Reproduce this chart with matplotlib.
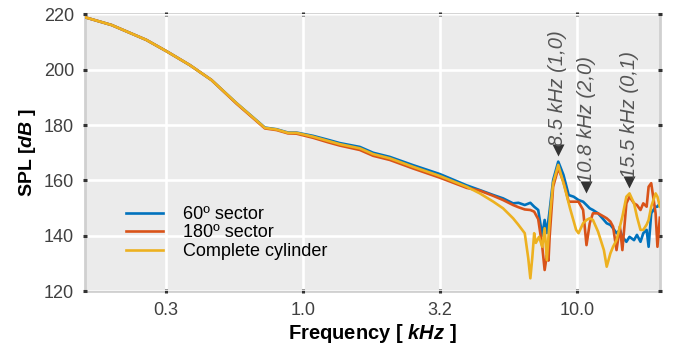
import numpy as np
import matplotlib
matplotlib.use("Agg")
import matplotlib.pyplot as plt

plt.rcParams['font.family'] = ['Liberation Sans', 'DejaVu Sans']
plt.rcParams['mathtext.fontset'] = 'custom'
plt.rcParams['mathtext.bfit'] = 'Liberation Sans:italic:bold'

# --- data (frequency in kHz, SPL in dB) ---
f_low = [0.16, 0.2, 0.268, 0.32, 0.386, 0.463, 0.572, 0.725, 0.80, 0.88, 0.945,
         1.088, 1.23, 1.36, 1.61, 1.80, 2.07, 2.52, 3.15, 3.95, 4.41]

f_blue_hi = [4.94, 5.36, 5.83, 6.1, 6.43, 6.74, 6.96, 7.2, 7.45, 7.6, 7.74, 7.93,
             8.16, 8.52, 8.9, 9.3, 9.7, 10.1, 10.5, 10.8, 11.1, 11.4, 11.9, 12.5,
             12.8, 13.2, 13.5, 13.9, 14.3, 14.6, 15.1, 15.5, 16.1, 16.5, 17.0,
             17.4, 17.9, 18.2, 18.6, 19.3, 19.6, 20.0]
spl_blue = [219.0, 216.2, 210.8, 206.5, 201.7, 196.3, 187.9, 179.1, 178.5, 177.3, 177.3,
            176.1, 174.7, 173.5, 172.1, 170.0, 168.5, 165.5, 162.3, 158.2, 156.5,
            154.7, 153.5, 151.7, 151.9, 151.1, 151.9, 150.5, 149.3, 140.0, 145.7, 141.0, 149.3,
            160.1, 166.8, 162.0, 154.7, 154.1, 152.9, 152.3, 151.1, 149.9, 149.3, 148.1, 145.7,
            144.5, 143.9, 142.7, 140.9, 142.1, 139.6, 137.8, 139.6, 138.4, 140.3, 137.8,
            140.9, 142.1, 136.0, 148.1, 150.5, 150.5, 151.7]

f_red_hi = [4.94, 5.36, 5.83, 6.1, 6.43, 6.74, 6.96, 7.2, 7.45, 7.6, 7.74, 7.85, 7.93,
            8.16, 8.52, 8.9, 9.3, 9.7, 10.1, 10.5, 10.8, 11.1, 11.4, 11.9, 12.5,
            12.8, 13.2, 13.5, 13.9, 14.3, 14.6, 15.1, 15.5, 16.1, 16.5, 17.0,
            17.4, 17.9, 18.2, 18.6, 19.3, 19.6, 20.0]
spl_red = [219.0, 216.2, 210.8, 206.5, 201.7, 196.3, 187.7, 178.8, 178.2, 177.0, 176.9,
           175.4, 173.8, 172.6, 171.0, 168.9, 167.4, 164.3, 161.0, 157.3, 156.3,
           154.4, 152.9, 151.1, 150.3, 149.5, 149.3, 148.7, 146.0, 136.0, 127.6, 133.0, 131.0, 140.0,
           157.7, 164.4, 159.5, 152.3, 152.3, 152.3, 149.3, 136.6, 144.5, 148.1, 148.1, 146.9,
           146.3, 145.1, 143.3, 134.8, 143.3, 134.8, 151.7, 154.1, 151.7, 151.1, 149.3,
           151.7, 150.5, 157.7, 159.0, 148.1, 136.0, 146.5]

f_yel_hi = [4.94, 5.36, 5.83, 6.1, 6.43, 6.62, 6.74, 6.85, 6.96, 7.06, 7.25, 7.45, 7.6,
            7.74, 7.96, 8.16, 8.52, 8.98, 9.4, 9.9, 10.1, 10.5, 10.8, 11.1, 11.4, 11.9,
            12.5, 12.8, 13.2, 13.5, 13.9, 14.3, 14.6, 15.1, 15.5, 16.1, 16.5, 17.0,
            17.4, 17.9, 18.2, 18.6, 19.3, 19.6, 20.0]
spl_yel = [219.0, 216.2, 210.8, 206.5, 201.7, 196.3, 187.9, 179.0, 178.4, 177.2, 177.2,
           175.8, 174.3, 173.1, 171.6, 169.5, 168.0, 164.9, 161.6, 157.7, 155.3,
           152.3, 149.9, 146.3, 143.9, 140.9, 132.0, 124.6, 132.0, 140.9, 137.4, 139.6, 136.0, 142.7,
           131.2, 148.1, 159.0, 165.6, 157.7, 150.0, 142.1, 140.9, 144.5, 145.7, 146.3, 145.7, 141.5,
           134.8, 128.8, 133.6, 136.0, 138.4, 143.3, 146.9, 154.1, 155.3, 151.7, 146.9, 142.1,
           142.1, 144.0, 145.7, 150.5, 155.3, 154.1, 150.5]

labels = ["60º sector", "180º sector", "Complete cylinder"]
colors = ["#0072BD", "#D95319", "#EDB120"]

modes = ["8.5 kHz (1,0)", "10.8 kHz (2,0)", "15.5 kHz (0,1)"]
mode_f = [8.5, 10.8, 15.5]
mode_y = [171.0, 157.6, 159.4]

xticks = [10 ** -0.5, 1.0, 10 ** 0.5, 10.0]

fig = plt.figure(figsize=(6.74, 3.51), dpi=100)
ax = fig.add_axes([0.1261, 0.1709, 0.979 - 0.1261, 0.9587 - 0.1709])
ax.set_facecolor('#ebebeb')

series = [(f_low + f_blue_hi, spl_blue), (f_low + f_red_hi, spl_red), (f_low + f_yel_hi, spl_yel)]
for (f, s), lab, c in zip(series, labels, colors):
    ax.plot(f, s, color=c, lw=1.9, label=lab)

ax.set_xscale('log')
ax.set_xlim(0.16, 20)
ax.set_ylim(120, 220)
ax.set_xticks(xticks)
ax.set_xticklabels(["%.1f" % t for t in xticks])
ax.xaxis.set_minor_locator(matplotlib.ticker.NullLocator())
ax.set_yticks([120, 140, 160, 180, 200, 220])
ax.grid(True, color='white', lw=1.9)
ax.set_axisbelow(True)
for sp in ax.spines.values():
    sp.set_color('#d0d0d0')
    sp.set_linewidth(2)
    sp.set_zorder(0.4)
ax.tick_params(which='both', direction='inout', length=3.5, width=2.2, color='#333333',
               labelsize=13, labelcolor='#404040', top=True, right=True, pad=6)

for t, fm, ym in zip(modes, mode_f, mode_y):
    ax.plot([fm], [ym], marker='v', color='#333333', ms=8, mec='none')
    ax.text(fm, ym + 1.6, t, rotation=90, ha='center', va='bottom', style='italic',
            fontsize=14.5, color='#555555')

ax.set_xlabel(r"Frequency [ $\mathbfit{kHz}$ ]", fontsize=14.5, fontweight='bold', labelpad=2)
ax.set_ylabel(r"SPL [$\mathbfit{dB}$ ]", fontsize=14, fontweight='bold', labelpad=4)

ax.legend(loc='upper left', bbox_to_anchor=(0.055, 0.34), frameon=False, fontsize=13,
          handlelength=2.05, handletextpad=1.15, labelspacing=0.08, borderpad=0)

fig.savefig("out.png", dpi=100)
